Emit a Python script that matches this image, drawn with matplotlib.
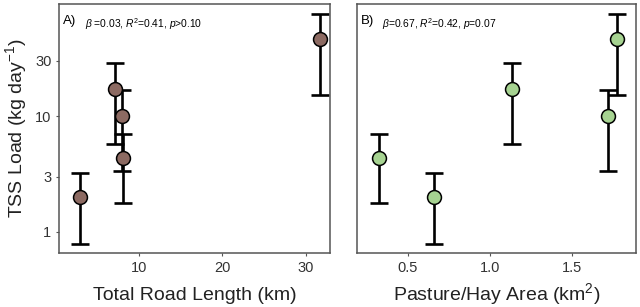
import matplotlib
matplotlib.use("Agg")
import matplotlib.pyplot as plt
from matplotlib.ticker import FixedLocator, NullLocator
import numpy as np

plt.rcParams['font.family'] = ['Liberation Sans', 'DejaVu Sans']
plt.rcParams['mathtext.fontset'] = 'custom'
plt.rcParams['mathtext.rm'] = 'Liberation Sans'
plt.rcParams['mathtext.it'] = 'Liberation Sans:italic'

# Data
road_km = [2.93, 7.15, 7.95, 8.15, 31.7]
pasture_km2 = [0.656, 1.134, 1.723, 0.321, 1.774]
tss_load = [2.01, 17.1, 10.0, 4.36, 46.3]
tss_lower = [0.79, 5.76, 3.36, 1.78, 15.3]
tss_upper = [3.23, 28.6, 16.7, 7.03, 76.2]
y_ticks = [1, 3, 10, 30]
x_ticks_a = [10, 20, 30]
x_ticks_b = [0.5, 1.0, 1.5]

brown = '#8C6A62'
green = '#A6D391'
spine_col = '#555555'
text_col = '#222222'

fig = plt.figure(figsize=(6.4, 3.07), dpi=100)
W, H = 640, 307
axA = fig.add_axes([59 / W, 1 - 253 / H, (330 - 59) / W, (253 - 4) / H])
axB = fig.add_axes([357 / W, 1 - 253 / H, (636 - 357) / W, (253 - 4) / H])

yerr = [np.array(tss_load) - np.array(tss_lower), np.array(tss_upper) - np.array(tss_load)]

for ax, x, col, xlim, xt, xlabel in [
    (axA, road_km, brown, (0.42, 32.9), x_ticks_a, 'Total Road Length (km)'),
    (axB, pasture_km2, green, (0.189, 1.892), x_ticks_b, 'Pasture/Hay Area (km$^2$)'),
]:
    ax.errorbar(x, tss_load, yerr=yerr, fmt='none', ecolor='black', elinewidth=1.9,
                capsize=6.5, capthick=1.9, zorder=2)
    ax.plot(x, tss_load, 'o', ms=10, mfc=col, mec='black', mew=1.1, zorder=3)
    ax.set_yscale('log')
    ax.set_ylim(0.657, 93)
    ax.set_xlim(*xlim)
    ax.yaxis.set_major_locator(FixedLocator(y_ticks))
    ax.yaxis.set_minor_locator(NullLocator())
    ax.set_xticks(xt)
    for s in ax.spines.values():
        s.set_color(spine_col)
        s.set_linewidth(1.1)
    ax.tick_params(axis='both', which='major', length=2.5, width=0.8, color=spine_col,
                   labelsize=10.5, labelcolor='#333333', pad=3.5)
    # x-axis title placed with its baseline at a fixed pixel row
    pos = ax.get_position()
    fig.text(pos.x0 + pos.width / 2, 1 - 300 / H, xlabel, fontsize=14, color=text_col,
             ha='center', va='baseline')

axA.set_yticklabels([str(v) for v in y_ticks])
axA.tick_params(axis='y', pad=3)
axB.set_yticklabels([])
axB.tick_params(axis='y', length=0)
axA.set_ylabel('TSS Load (kg day$^{-1}$)', fontsize=14, color=text_col, labelpad=4)

axA.text(0.015, 0.955, 'A)', transform=axA.transAxes, fontsize=9.5, va='top', ha='left')
axA.text(0.095, 0.95, r'$\it{\beta}$ =0.03, $\it{R}$$^2$=0.41, $\it{p}$>0.10',
         transform=axA.transAxes, fontsize=7.4, va='top', ha='left')
axB.text(0.015, 0.955, 'B)', transform=axB.transAxes, fontsize=9.5, va='top', ha='left')
axB.text(0.09, 0.95, r'$\it{\beta}$=0.67, $\it{R}$$^2$=0.42, $\it{p}$=0.07',
         transform=axB.transAxes, fontsize=7.4, va='top', ha='left')

fig.savefig('out.png', dpi=100)
